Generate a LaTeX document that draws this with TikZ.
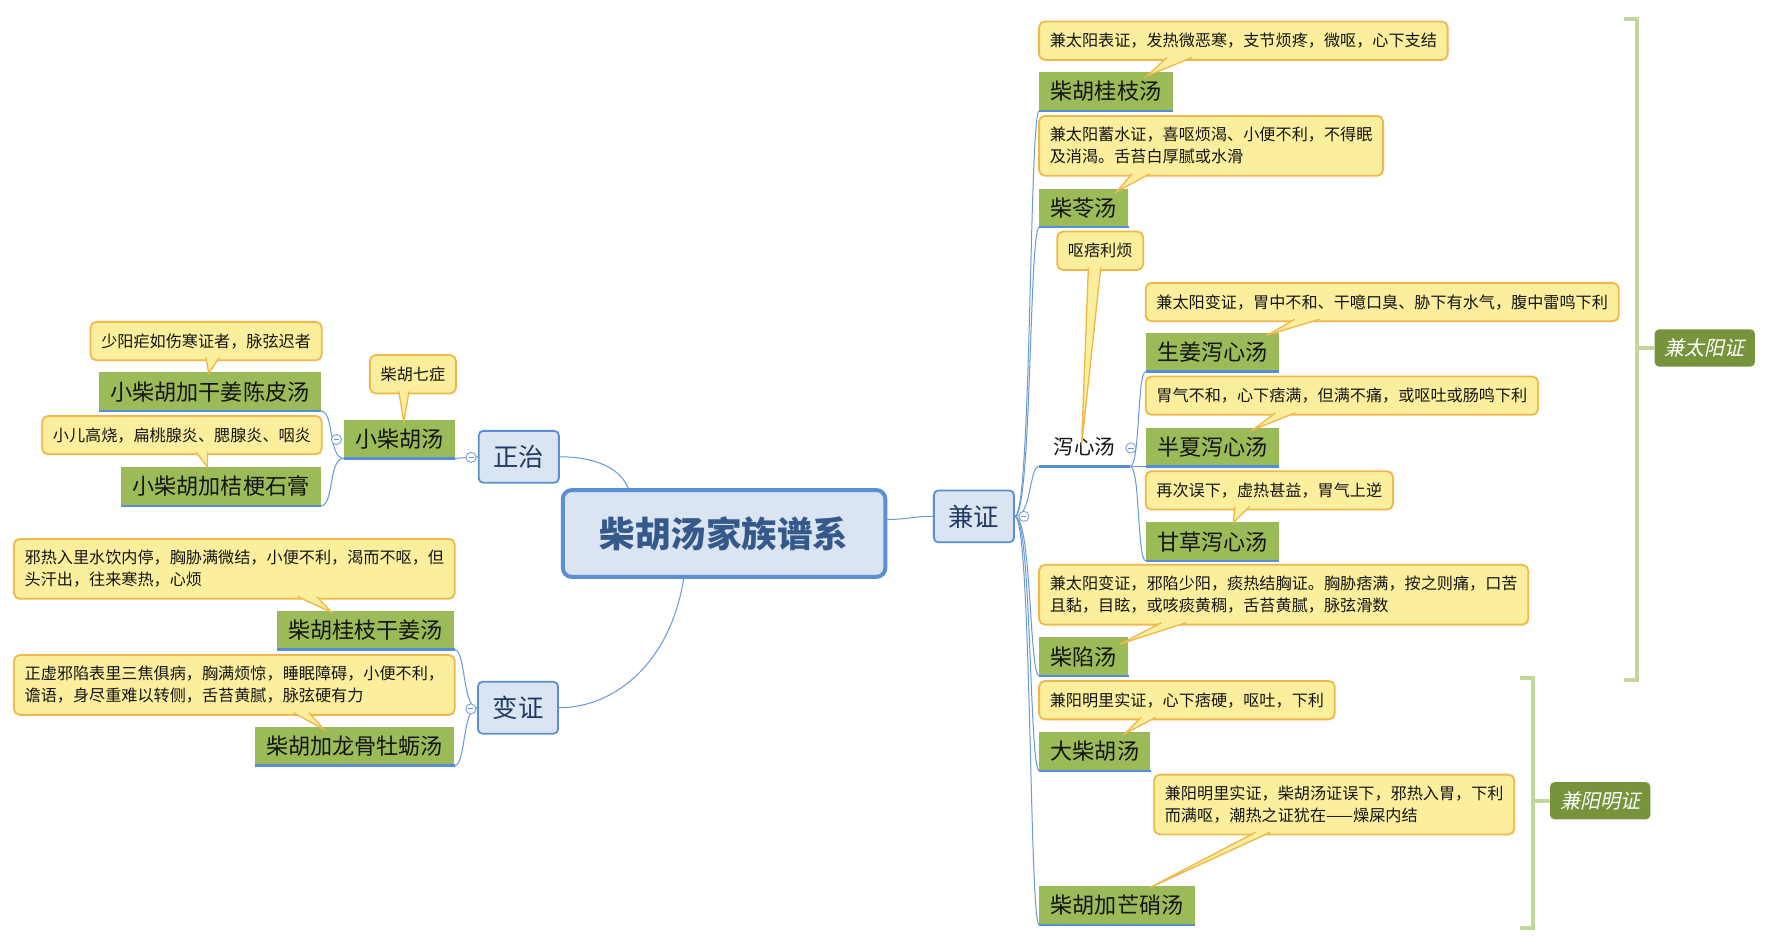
\documentclass[tikz,border=0pt]{standalone}
\usepackage{fontspec}
\setmainfont{Noto Sans CJK SC}
\newfontfamily\cjkslant[FakeSlant=0.22]{Noto Sans CJK SC}
\usetikzlibrary{calc,backgrounds}
\definecolor{topicgreen}{HTML}{9BBB59}
\definecolor{ublue}{HTML}{558ED5}
\definecolor{connblue}{HTML}{6A9AD6}
\definecolor{mainfill}{HTML}{DBE5F1}
\definecolor{mainborder}{HTML}{5B8FD5}
\definecolor{maintext}{HTML}{1F3A60}
\definecolor{roottext}{HTML}{36598B}
\definecolor{callfill}{HTML}{FBEF9D}
\definecolor{callborder}{HTML}{F0B84A}
\definecolor{brackgreen}{HTML}{C3D69B}
\definecolor{sumgreen}{HTML}{77933C}
\tikzset{
 topicbox/.style={fill=topicgreen, inner xsep=10pt, inner ysep=0pt, minimum height=34pt, font=\fontsize{19.6}{22}\selectfont, text=black!92},
 plaintopic/.style={inner xsep=12.8pt, inner ysep=0pt, minimum height=34pt, font=\fontsize{18.2}{21}\selectfont, text=black!92},
 calloutbox/.style={fill=callfill, draw=callborder, line width=1.6pt, rounded corners=5pt, inner xsep=9.5pt, inner ysep=2pt, minimum height=34pt, align=left, font=\fontsize{14.3}{19.5}\selectfont, text=black!92},
 twoline/.style={minimum height=53pt},
 mainbox/.style={fill=mainfill, draw=mainborder, line width=1.6pt, rounded corners=4pt, minimum width=71pt, minimum height=46pt, inner sep=0pt, font=\fontsize{22.5}{24}\selectfont, text=maintext},
 rootbox/.style={fill=mainfill, draw=mainborder, line width=3.5pt, rounded corners=8pt, minimum width=286pt, minimum height=77pt, inner sep=0pt, font=\bfseries\fontsize{31.5}{34}\selectfont, text=roottext},
 sumbox/.style={fill=sumgreen, rounded corners=4pt, minimum width=89pt, minimum height=33pt, inner sep=0pt, text=white, font=\cjkslant\fontsize{17.8}{20}\selectfont},
 uline/.style={draw=ublue, line width=2.2pt},
 conn/.style={draw=connblue, line width=0.9pt},
 bracket/.style={draw=brackgreen, line width=3.5pt},
 tailstyle/.style={fill=callfill, draw=callborder, line width=1.2pt, line join=miter},
 collapse/.style={circle, draw=connblue, fill=white, line width=0.7pt, minimum size=9pt, inner sep=0pt,
   path picture={\draw[connblue, line width=0.7pt] ($(path picture bounding box.west)+(2.2,0)$) -- ($(path picture bounding box.east)+(-2.2,0)$);}},
}
\newcommand{\calltail}[3]{\fill[callfill] #1 -- #3 -- #2 -- cycle; \draw[tailstyle, fill=none] #1 -- #3 -- #2;}
\begin{document}
\begin{tikzpicture}[x=1pt,y=-1pt]
\useasboundingbox (0,0) rectangle (1572,839);
% ---------- main topics ----------
\node[rootbox] (root) at (642,473) {柴胡汤家族谱系};
\node[mainbox] (zz) at (460,405) {正治};
\node[mainbox] (jz) at (863.5,457.8) {兼证};
\node[mainbox] (bz) at (459.3,627.5) {变证};
% ---------- left: 正治 ----------
\node[topicbox, anchor=north east] (xch) at (403.6,372) {小柴胡汤};
\node[topicbox, anchor=north east] (k1) at (284.5,330) {小柴胡加干姜陈皮汤};
\node[topicbox, anchor=north east] (k2) at (284.5,414) {小柴胡加桔梗石膏};
\node[calloutbox, anchor=north east] (cJ) at (405,314) {柴胡七症};
\node[calloutbox, anchor=north east] (cK) at (286,284.6) {少阳疟如伤寒证者，脉弦迟者};
\node[calloutbox, anchor=north east] (cL) at (286,368) {小儿高烧，扁桃腺炎、腮腺炎、咽炎};
% ---------- left: 变证 ----------
\node[topicbox, anchor=north east] (g1) at (403,541.5) {柴胡桂枝干姜汤};
\node[topicbox, anchor=north east] (g2) at (403,644.5) {柴胡加龙骨牡蛎汤};
\node[calloutbox, twoline, anchor=north east] (cM) at (404,477) {邪热入里水饮内停，胸胁满微结，小便不利，渴而不呕，但\\头汗出，往来寒热，心烦};
\node[calloutbox, twoline, anchor=north east] (cN) at (404,580) {正虚邪陷表里三焦俱病，胸满烦惊，睡眠障碍，小便不利，\\谵语，身尽重难以转侧，舌苔黄腻，脉弦硬有力};
% ---------- right: 兼证 ----------
\node[topicbox, anchor=north west] (t1) at (921.4,64) {柴胡桂枝汤};
\node[topicbox, anchor=north west] (t2) at (921.4,167) {柴苓汤};
\node[plaintopic, anchor=north west] (xx) at (921.4,379) {泻心汤};
\node[topicbox, anchor=north west] (t3) at (1016,295) {生姜泻心汤};
\node[topicbox, anchor=north west] (t4) at (1016,379) {半夏泻心汤};
\node[topicbox, anchor=north west] (t5) at (1016,463) {甘草泻心汤};
\node[topicbox, anchor=north west] (t6) at (921.4,565) {柴陷汤};
\node[topicbox, anchor=north west] (t7) at (921.4,649) {大柴胡汤};
\node[topicbox, anchor=north west] (t8) at (921.4,785.5) {柴胡加芒硝汤};
\node[calloutbox, anchor=north west] (cA) at (920.5,18.3) {兼太阳表证，发热微恶寒，支节烦疼，微呕，心下支结};
\node[calloutbox, twoline, anchor=north west] (cB) at (920.5,102) {兼太阳蓄水证，喜呕烦渴、小便不利，不得眠\\及消渴。舌苔白厚腻或水滑};
\node[calloutbox, anchor=north west] (cC) at (936.6,204.5) {呕痞利烦};
\node[calloutbox, anchor=north west] (cD) at (1015,250) {兼太阳变证，胃中不和、干噫口臭、胁下有水气，腹中雷鸣下利};
\node[calloutbox, anchor=north west] (cE) at (1015,333) {胃气不和，心下痞满，但满不痛，或呕吐或肠鸣下利};
\node[calloutbox, anchor=north west] (cF) at (1015,417) {再次误下，虚热甚益，胃气上逆};
\node[calloutbox, twoline, anchor=north west] (cG) at (920.5,500) {兼太阳变证，邪陷少阳，痰热结胸证。胸胁痞满，按之则痛，口苦\\且黏，目眩，或咳痰黄稠，舌苔黄腻，脉弦滑数};
\node[calloutbox, anchor=north west] (cH) at (920.5,603) {兼阳明里实证，心下痞硬，呕吐，下利};
\node[calloutbox, twoline, anchor=north west] (cI) at (1022.5,686) {兼阳明里实证，柴胡汤证误下，邪热入胃，下利\\而满呕，潮热之证犹在——燥屎内结};
% ---------- summaries ----------
\node[sumbox] (sty) at (1511.5,308.5) {兼太阳证};
\node[sumbox] (sym) at (1418.8,710) {兼阳明证};
% ---------- underlines ----------
\foreach \n in {xch,k1,k2,g1,g2,t1,t2,xx,t3,t4,t5,t6,t7,t8}
  \draw[uline] (\n.south west) -- (\n.south east);
% ---------- connectors (behind) ----------
\begin{pgfonlayer}{background}
\fill[white] (0,0) rectangle (1572,839);
\coordinate (rootTop) at ($(root.north west)!0.206!(root.north east)$);
\coordinate (rootBot) at ($(root.south west)!0.376!(root.south east)$);
\coordinate (rootR) at ($(root.east)+(0,-12.5)$);
\draw[conn] (zz.east) .. controls +(34,0) and +(-6,-16) .. (rootTop);
\draw[conn] (rootBot) .. controls +(-11.5,73.5) and +(50,0) .. (bz.east);
\draw[conn] (rootR) .. controls +(20,0) and +(-20,0) .. (jz.west);
% 正治
\draw[conn] (zz.west) -- (xch.south east);
\draw[conn] (xch.south west) .. controls +(-14,0) and +(12,0) .. (k1.south east);
\draw[conn] (xch.south west) .. controls +(-14,0) and +(12,0) .. (k2.south east);
% 变证
\draw[conn] (bz.west) .. controls +(-13,0) and +(10,0) .. (g1.south east);
\draw[conn] (bz.west) .. controls +(-13,0) and +(10,0) .. (g2.south east);
% 兼证
\foreach \c in {t1,t2,xx,t6,t7,t8}
  \draw[conn] (jz.east) .. controls +(15,0) and +(-9,0) .. (\c.south west);
% 泻心汤
\foreach \c in {t3,t4,t5}
  \draw[conn] (xx.south east) .. controls +(9,0) and +(-8,0) .. (\c.south west);
\end{pgfonlayer}
% ---------- collapse markers ----------
\node[collapse] (mzz) at ($(zz.west)+(-6,0.5)$) {};
\node[collapse] (mbz) at ($(bz.west)+(-5.5,1)$) {};
\node[collapse] (mjz) at ($(jz.east)+(8,0)$) {};
\node[collapse] (mxch) at ($(xch.west)+(-6.5,0.5)$) {};
\node[collapse] (mxx) at ($(xx.east)+(0.7,1)$) {};
% ---------- callout tails ----------
\calltail{(1034.6,51)}{(1056.8,51)}{(1017,67.4)}
\calltail{(1004,154)}{(1019.5,154)}{(990,170)}
\calltail{(965,237)}{(976,237)}{(959,394.5)}
\calltail{(1148,283)}{(1170,283)}{(1124,297)}
\calltail{(1131,366)}{(1148.5,366)}{(1111,381)}
\calltail{(1095,449)}{(1108,449)}{(1093.5,463.4)}
\calltail{(1030,552)}{(1052,552)}{(993,571)}
\calltail{(1012,636)}{(1024.6,636)}{(997,650.7)}
\calltail{(1113,738)}{(1126,738)}{(1019.5,787)}
\calltail{(353.6,347)}{(362.7,347)}{(358,374)}
\calltail{(182.7,317)}{(194.5,317)}{(185,331)}
\calltail{(174,401)}{(184,401)}{(184,414)}
\calltail{(264,529)}{(281,529)}{(294,543)}
\calltail{(260.5,632)}{(274,632)}{(287.6,647)}
% ---------- summary brackets ----------
\draw[bracket] (1440,16.5) -- (1451,16.5) -- (1451,603) -- (1440,603);
\draw[bracket] (1451,308.5) -- (sty.west);
\draw[bracket] (1348,601) -- (1359.4,601) -- (1359.4,823) -- (1348,823);
\draw[bracket] (1359.4,710) -- (sym.west);
\end{tikzpicture}
\end{document}
